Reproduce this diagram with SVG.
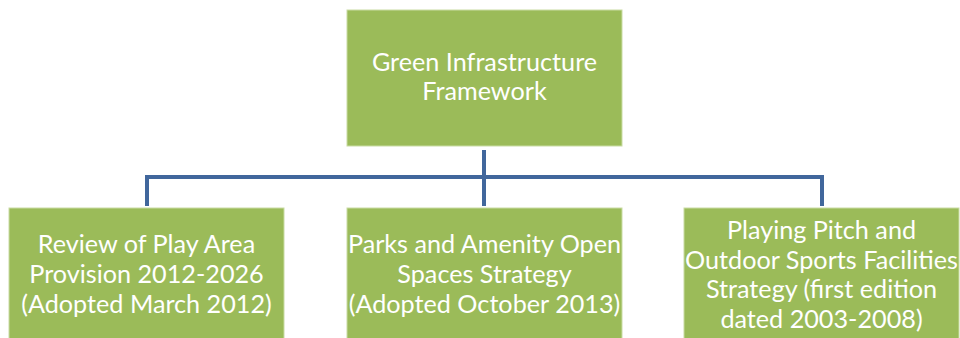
<svg xmlns="http://www.w3.org/2000/svg" width="960" height="338" viewBox="0 0 960 338">
  <style>
    .box { fill: #9BBB59; stroke: #C9DCA4; stroke-width: 1; }
    .lbl { font-family: Lato, "Open Sans", "Liberation Sans", sans-serif; font-size: 25.2px; fill: #FFFFFF; text-anchor: middle; }
    .link { fill: none; stroke: #41679C; stroke-width: 4; }
  </style>
  <rect width="960" height="338" fill="#FFFFFF"/>
  <g id="connectors">
    <path class="link" d="M484,150 V177"/>
    <path class="link" d="M147,206 V177 H822 V206"/>
    <path class="link" d="M484,177 V206"/>
  </g>
  <g id="node-root">
    <rect class="box" x="347" y="10" width="275" height="136"/>
    <text class="lbl" x="484.5" y="71">Green Infrastructure</text>
    <text class="lbl" x="484.5" y="100">Framework</text>
  </g>
  <g id="node-play">
    <rect class="box" x="9" y="208" width="275" height="136"/>
    <text class="lbl" x="146.5" y="253">Review of Play Area</text>
    <text class="lbl" x="146.5" y="283">Provision 2012-2026</text>
    <text class="lbl" x="146.5" y="313">(Adopted March 2012)</text>
  </g>
  <g id="node-parks">
    <rect class="box" x="347" y="208" width="275" height="136"/>
    <text class="lbl" x="484.5" y="253">Parks and Amenity Open</text>
    <text class="lbl" x="484.5" y="283">Spaces Strategy</text>
    <text class="lbl" x="484.5" y="313">(Adopted October 2013)</text>
  </g>
  <g id="node-pitch">
    <rect class="box" x="684" y="208" width="275" height="136"/>
    <text class="lbl" x="821.5" y="239">Playing Pitch and</text>
    <text class="lbl" x="821.5" y="268.5">Outdoor Sports Facilities</text>
    <text class="lbl" x="821.5" y="298">Strategy (first edition</text>
    <text class="lbl" x="821.5" y="327.5">dated 2003-2008)</text>
  </g>
</svg>
